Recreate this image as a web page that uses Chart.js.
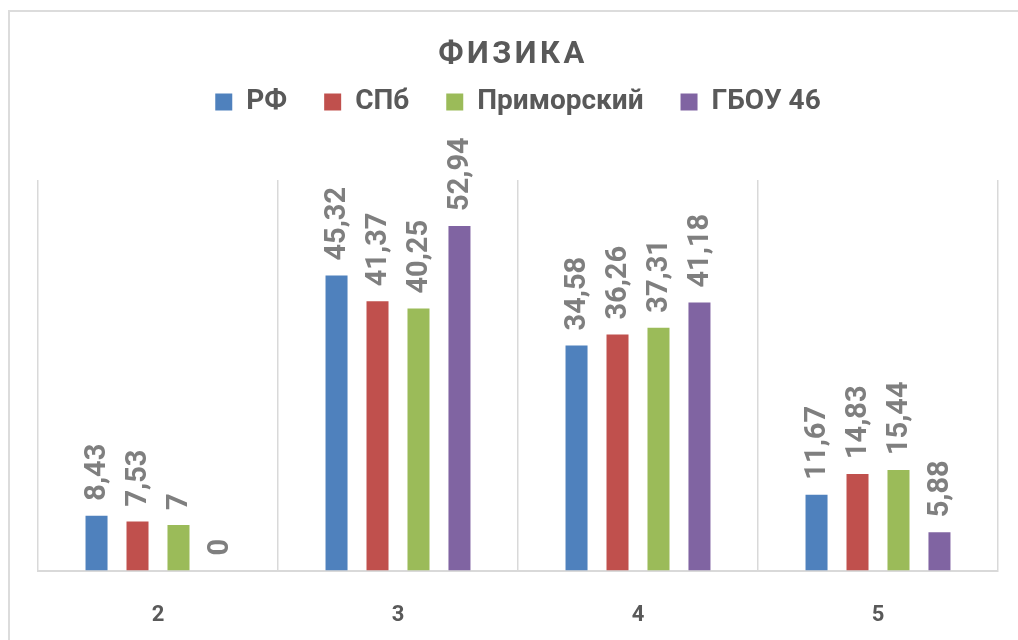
<!DOCTYPE html>
<html>
<head>
<meta charset="utf-8">
<script src="https://cdn.jsdelivr.net/npm/chart.js@4/dist/chart.umd.min.js"></script>
<style>
  html, body { margin: 0; padding: 0; background: #fff; overflow: hidden; }
  #wrap { position: relative; width: 1018px; height: 640px; }
  #frame {
    position: absolute; left: 8px; top: 10px; width: 1100px; height: 700px;
    border: 2px solid #dcdcdc; box-sizing: border-box;
  }
  #chart { position: absolute; left: 0; top: 0; }
</style>
</head>
<body>
<div id="wrap">
  <div id="frame"></div>
  <canvas id="chart" width="1018" height="640"></canvas>
</div>
<script>
/* ============================
   DATA
   ============================ */
const TITLE = "ФИЗИКА";
const categories = ["2", "3", "4", "5"];
const seriesNames = ["РФ", "СПб", "Приморский", "ГБОУ 46"];
const rfValues = [8.43, 45.32, 34.58, 11.67];
const spbValues = [7.53, 41.37, 36.26, 14.83];
const primorskyValues = [7, 40.25, 37.31, 15.44];
const schoolValues = [0, 52.94, 41.18, 5.88];
const seriesColors = ["#4f81bd", "#c0504d", "#9bbb59", "#8064a2"];

const FONT = "Roboto";

/* ============================
   PLUGINS
   ============================ */
// title drawn by hand so it can be letter-spaced
const headerPlugin = {
  id: "header",
  afterDraw(chart) {
    const ctx = chart.ctx;
    ctx.save();
    ctx.font = `bold 31px ${FONT}`;
    ctx.fillStyle = "#595959";
    ctx.textAlign = "center";
    ctx.textBaseline = "middle";
    if ("letterSpacing" in ctx) ctx.letterSpacing = "3.5px";
    ctx.fillText(TITLE, 513, 55);
    ctx.restore();
  },
};

// rotated value labels above each bar
const barLabels = {
  id: "barLabels",
  afterDatasetsDraw(chart) {
    const ctx = chart.ctx;
    ctx.save();
    ctx.font = `bold 29px ${FONT}`;
    ctx.fillStyle = "#7f7f7f";
    ctx.textAlign = "left";
    ctx.textBaseline = "middle";
    chart.data.datasets.forEach((ds, i) => {
      chart.getDatasetMeta(i).data.forEach((bar, j) => {
        ctx.save();
        ctx.translate(bar.x + 1, bar.y - 15);
        ctx.rotate(-Math.PI / 2);
        ctx.fillText(String(ds.data[j]).replace(".", ","), 0, 0);
        ctx.restore();
      });
    });
    ctx.restore();
  },
};

/* ============================
   CHART
   ============================ */
const allSeries = [rfValues, spbValues, primorskyValues, schoolValues];

new Chart(document.getElementById("chart"), {
  type: "bar",
  data: {
    labels: categories,
    datasets: allSeries.map((values, i) => ({
      label: seriesNames[i],
      data: values,
      backgroundColor: seriesColors[i],
      borderWidth: 0,
      categoryPercentage: 0.683,
      barPercentage: 0.537,
    })),
  },
  options: {
    responsive: false,
    animation: false,
    devicePixelRatio: 1,
    // bottom is negative: the axis reserves more room under the labels than needed
    layout: { padding: { top: 51, left: 38, right: 20, bottom: -21 } },
    plugins: {
      title: { display: false },
      // empty spacer between legend and plot
      subtitle: {
        display: true,
        text: " ",
        position: "top",
        weight: 500,
        font: { size: 10 },
        padding: { top: 0, bottom: 42 },
      },
      tooltip: { enabled: false },
      legend: {
        position: "top",
        labels: {
          boxWidth: 17,
          boxHeight: 17,
          padding: 37,
          color: "#595959",
          font: { family: FONT, size: 28, weight: "bold" },
        },
      },
    },
    scales: {
      x: {
        grid: {
          color: "#d9d9d9",
          lineWidth: 1.5,
          drawTicks: false,
          offset: true,
        },
        border: { color: "#d9d9d9", width: 2 },
        ticks: {
          color: "#595959",
          padding: 32,
          font: { family: FONT, size: 22, weight: "bold" },
        },
      },
      y: {
        display: false,
        min: 0,
        max: 60,
      },
    },
  },
  plugins: [headerPlugin, barLabels],
});
</script>
</body>
</html>
